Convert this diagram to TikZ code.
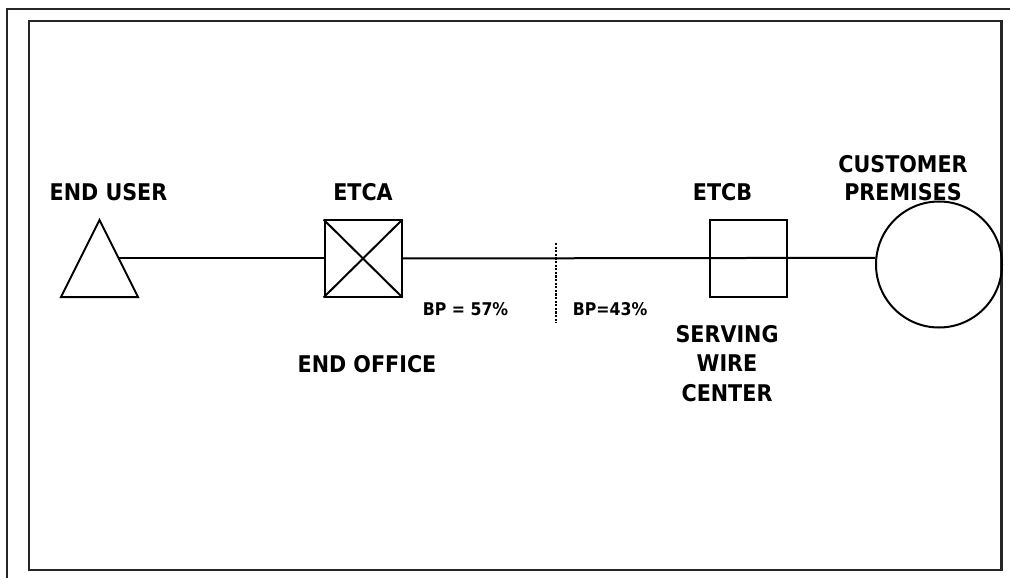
\documentclass[tikz,border=0pt]{standalone}
\usepackage{fontspec}
\newfontfamily\lblfont{DejaVu Sans Condensed}
\tikzset{
  lbl/.style={font=\lblfont\bfseries\fontsize{23bp}{28.5bp}\selectfont, inner sep=0pt, align=center},
  small/.style={font=\lblfont\bfseries\fontsize{17.5bp}{20bp}\selectfont, inner sep=0pt},
  wire/.style={line width=2bp},
  box/.style={draw, line width=2bp, rectangle, minimum width=77bp, minimum height=76bp, inner sep=0pt},
  frame/.style={line width=2.2bp, draw=black!85},
}
\begin{document}
\begin{tikzpicture}[x=1bp,y=-1bp]
\useasboundingbox (0,0) rectangle (1010,578);
% frames
\draw[frame] (7,578) -- (7,9) -- (1010,9);
\draw[frame] (29,21) rectangle (1001.5,570);
% end user triangle
\coordinate (ul) at (61,297);
\coordinate (ut) at (99.5,220);
\coordinate (ur) at (138,297);
\draw[wire, line join=miter] (ul) -- (ut) -- (ur) -- cycle;
\coordinate (user) at (118.9,258.5);
% offices
\node[box] (etca) at (363,258.5) {};
\draw[wire] (etca.north west) -- (etca.south east);
\draw[wire] (etca.south west) -- (etca.north east);
\node[box] (etcb) at (748.5,258.5) {};
\node[draw, line width=2bp, circle, minimum size=126bp, inner sep=0pt] (cust) at (939,264.5) {};
% connectors
\draw[wire] (user) -- (etca.west);
\draw[wire] (etca.east) -- (cust.174.5);
% boundary
\coordinate (bpt) at (556,243);
\coordinate (bpb) at (556,323);
\draw[line width=2.8bp, dash pattern=on 2.2bp off 1.4bp] (bpt) -- (bpb);
% labels
\node[lbl, anchor=base] (tuser) at (108.5,200.7) {END USER};
\node[lbl, anchor=base] (tetca) at (363,200.7) {ETCA};
\node[lbl, anchor=base] (tetcb) at (722.5,200.7) {ETCB};
\node[lbl, anchor=north] (tcust) at (903,155) {CUSTOMER\\PREMISES};
\node[lbl, anchor=base] (toff) at (367,372.3) {END OFFICE};
\node[lbl, anchor=north, font=\lblfont\bfseries\fontsize{23bp}{29.5bp}\selectfont] (tswc) at (727,325) {SERVING\\WIRE\\CENTER};
\node[small, anchor=base west] (bpa) at (422.7,315.7) {BP = 57\%};
\node[small, anchor=base west] (bpb2) at (572.7,315.7) {BP=43\%};
\end{tikzpicture}
\end{document}
